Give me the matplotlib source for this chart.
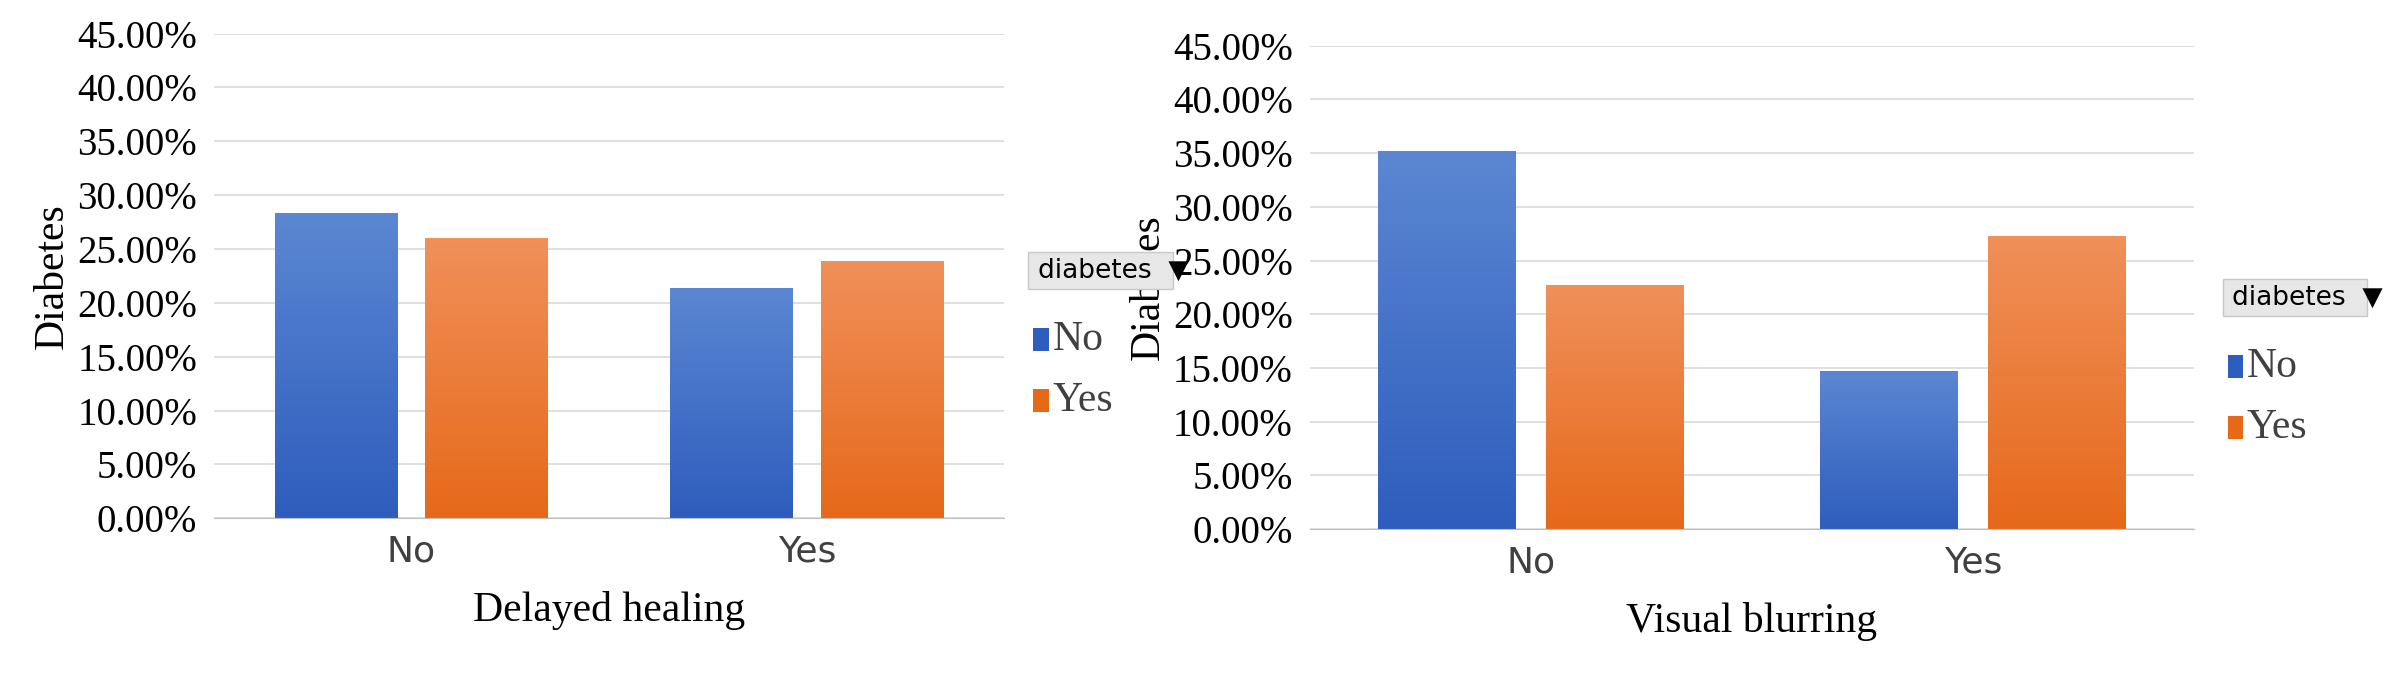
import matplotlib
matplotlib.use("Agg")
import matplotlib.pyplot as plt
import numpy as np
from matplotlib.patches import Rectangle
from matplotlib.colors import LinearSegmentedColormap

categories = ["No", "Yes"]
left_no = [28.3, 21.4]
left_yes = [26.0, 23.9]
right_no = [35.2, 14.7]
right_yes = [22.7, 27.3]
yticks = np.arange(0, 46, 5)

serif = "Liberation Serif"
blue = ("#5b87d2", "#2e5dbd")
orange = ("#f0905a", "#e6691a")

fig = plt.figure(figsize=(24.03, 6.73), dpi=100)


def grad_bar(ax, x, h, w, cols):
    bars = ax.bar(x, h, w, color="none")
    grad = np.linspace(0, 1, 256).reshape(-1, 1)
    cmap = LinearSegmentedColormap.from_list("g", [cols[1], cols[0]])
    for b in bars:
        im = ax.imshow(grad, extent=[b.get_x(), b.get_x() + w, 0, b.get_height()],
                       origin="lower", aspect="auto", cmap=cmap, zorder=2)
        im.set_clip_path(b)


def panel(rect, no, yes, xlabel, leg_x, leg_y):
    ax = fig.add_axes(rect)
    x = np.arange(len(categories))
    grad_bar(ax, x - 0.19, no, 0.31, blue)
    grad_bar(ax, x + 0.19, yes, 0.31, orange)
    ax.set_xlim(-0.5, 1.5)
    ax.set_ylim(0, 45)
    ax.set_yticks(yticks)
    ax.set_yticklabels([f"{v:.2f}%" for v in yticks], fontfamily=serif, fontsize=28)
    ax.set_xticks(x)
    ax.set_xticklabels(categories, fontsize=26, color="#404040")
    ax.tick_params(length=0, pad=12)
    ax.grid(axis="y", color="#d9d9d9", lw=1.2)
    ax.set_axisbelow(True)
    for s in ["top", "right", "left"]:
        ax.spines[s].set_visible(False)
    ax.spines["bottom"].set_color("#bfbfbf")
    ax.set_ylabel("Diabetes", fontfamily=serif, fontsize=30, labelpad=4)
    ax.set_xlabel(xlabel, fontfamily=serif, fontsize=30, labelpad=16)
    # legend
    fig.patches.append(Rectangle((leg_x, leg_y), 0.06, 0.055, transform=fig.transFigure,
                                 facecolor="#e7e7e7", edgecolor="#c8c8c8"))
    fig.text(leg_x + 0.004, leg_y + 0.027, "diabetes  \u25BC", fontsize=19, va="center")
    for i, (lab, c) in enumerate(zip(categories, [blue[1], orange[1]])):
        yy = leg_y - 0.075 - i * 0.09
        fig.patches.append(Rectangle((leg_x + 0.002, yy - 0.017), 0.0065, 0.034,
                                     transform=fig.transFigure, facecolor=c))
        fig.text(leg_x + 0.01, yy, lab, fontfamily=serif, fontsize=30, va="center",
                 color="#404040")


panel([0.089, 0.23, 0.329, 0.72], left_no, left_yes, "Delayed healing", 0.428, 0.57)
panel([0.545, 0.214, 0.368, 0.718], right_no, right_yes, "Visual blurring", 0.925, 0.53)

fig.savefig("out.png", dpi=100)
